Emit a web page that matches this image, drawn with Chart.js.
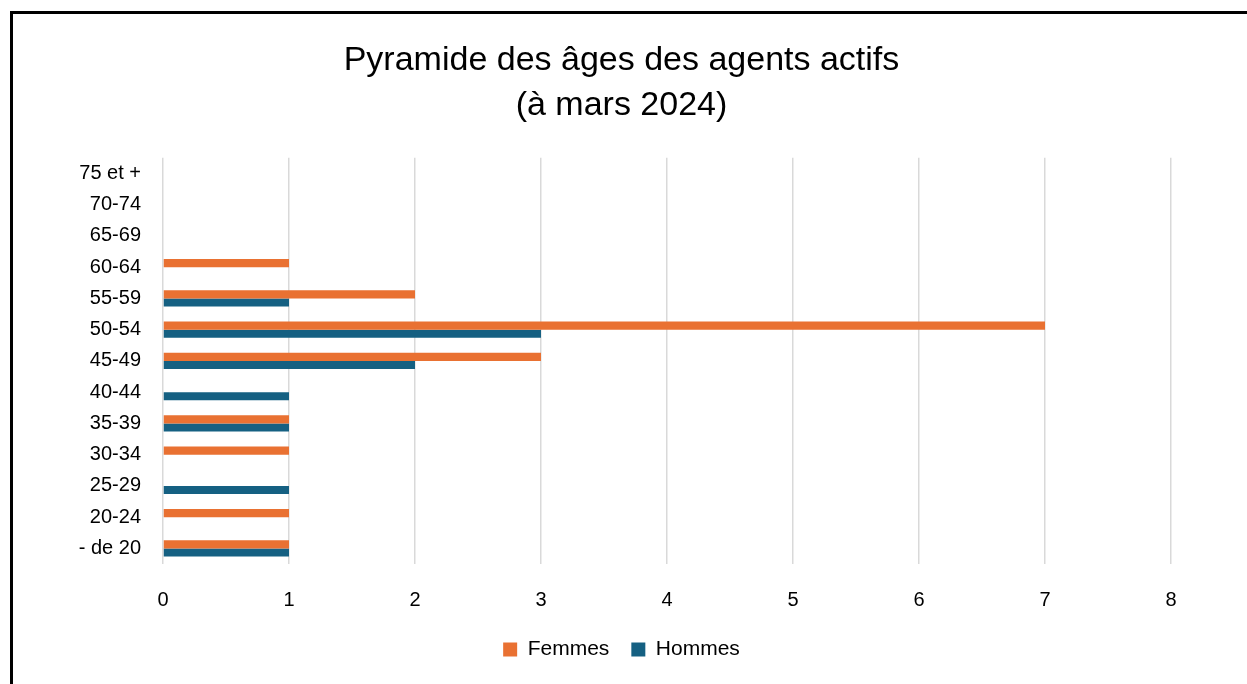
<!DOCTYPE html>
<html>
<head>
    <title>Pyramide des âges</title>
    <meta charset="UTF-8">
    <style>
        html, body {
            margin: 0;
            padding: 0;
            background: #ffffff;
        }
        .frame {
            position: absolute;
            left: 10px;
            top: 11px;
            width: 1300px;
            height: 800px;
            border-top: 3px solid #000;
            border-left: 3px solid #000;
        }
        .chart-container {
            position: absolute;
            left: 0;
            top: 0;
            width: 1247px;
            height: 684px;
        }
    </style>
    <script src="https://cdn.jsdelivr.net/npm/chart.js"></script>
</head>
<body>

<div class="frame"></div>
<div class="chart-container">
    <canvas id="pyramide" width="1247" height="684"></canvas>
</div>

<script>
    // tranches d'âge, du haut vers le bas
    const ageGroups = ['75 et +', '70-74', '65-69', '60-64', '55-59', '50-54', '45-49',
                       '40-44', '35-39', '30-34', '25-29', '20-24', '- de 20'];
    const femmes = [0, 0, 0, 1, 2, 7, 3, 0, 1, 1, 0, 1, 1];
    const hommes = [0, 0, 0, 0, 1, 3, 2, 1, 1, 0, 1, 0, 1];
    const xTicks = [0, 1, 2, 3, 4, 5, 6, 7, 8];

    const fontFamily = '"Liberation Sans", Arial, sans-serif';

    new Chart(document.getElementById('pyramide').getContext('2d'), {
        type: 'bar',
        data: {
            labels: ageGroups,
            datasets: [{
                label: 'Femmes',
                data: femmes,
                backgroundColor: '#E97132',
                barPercentage: 1,
                categoryPercentage: 0.52
            }, {
                label: 'Hommes',
                data: hommes,
                backgroundColor: '#156082',
                barPercentage: 1,
                categoryPercentage: 0.52
            }]
        },
        options: {
            indexAxis: 'y',
            responsive: false,
            animation: false,
            layout: {
                padding: { left: 72, right: 76, top: 38, bottom: 14 }
            },
            plugins: {
                title: {
                    display: true,
                    text: ['Pyramide des âges des agents actifs', '(à mars 2024)'],
                    color: '#000',
                    font: { family: fontFamily, size: 34, weight: 'normal', lineHeight: 1.32 },
                    padding: { top: 0, bottom: 30 }
                },
                legend: {
                    position: 'bottom',
                    labels: {
                        color: '#000',
                        font: { family: fontFamily, size: 21 },
                        boxWidth: 14,
                        boxHeight: 14,
                        padding: 22
                    }
                },
                tooltip: { enabled: false }
            },
            scales: {
                x: {
                    min: 0,
                    max: 8,
                    afterBuildTicks: function(scale) {
                        scale.ticks = xTicks.map(v => ({ value: v }));
                    },
                    afterFit: function(scale) {
                        scale.height -= 19;
                    },
                    ticks: {
                        color: '#000',
                        font: { family: fontFamily, size: 20 },
                        padding: 24
                    },
                    grid: {
                        color: '#D9D9D9',
                        lineWidth: 1.5,
                        drawTicks: false
                    },
                    border: { display: false }
                },
                y: {
                    afterFit: function(scale) {
                        scale.width = 91;
                    },
                    ticks: {
                        color: '#000',
                        font: { family: fontFamily, size: 20 },
                        padding: 22,
                        autoSkip: false
                    },
                    grid: { display: false, drawTicks: false },
                    border: { display: false }
                }
            }
        }
    });
</script>

</body>
</html>
